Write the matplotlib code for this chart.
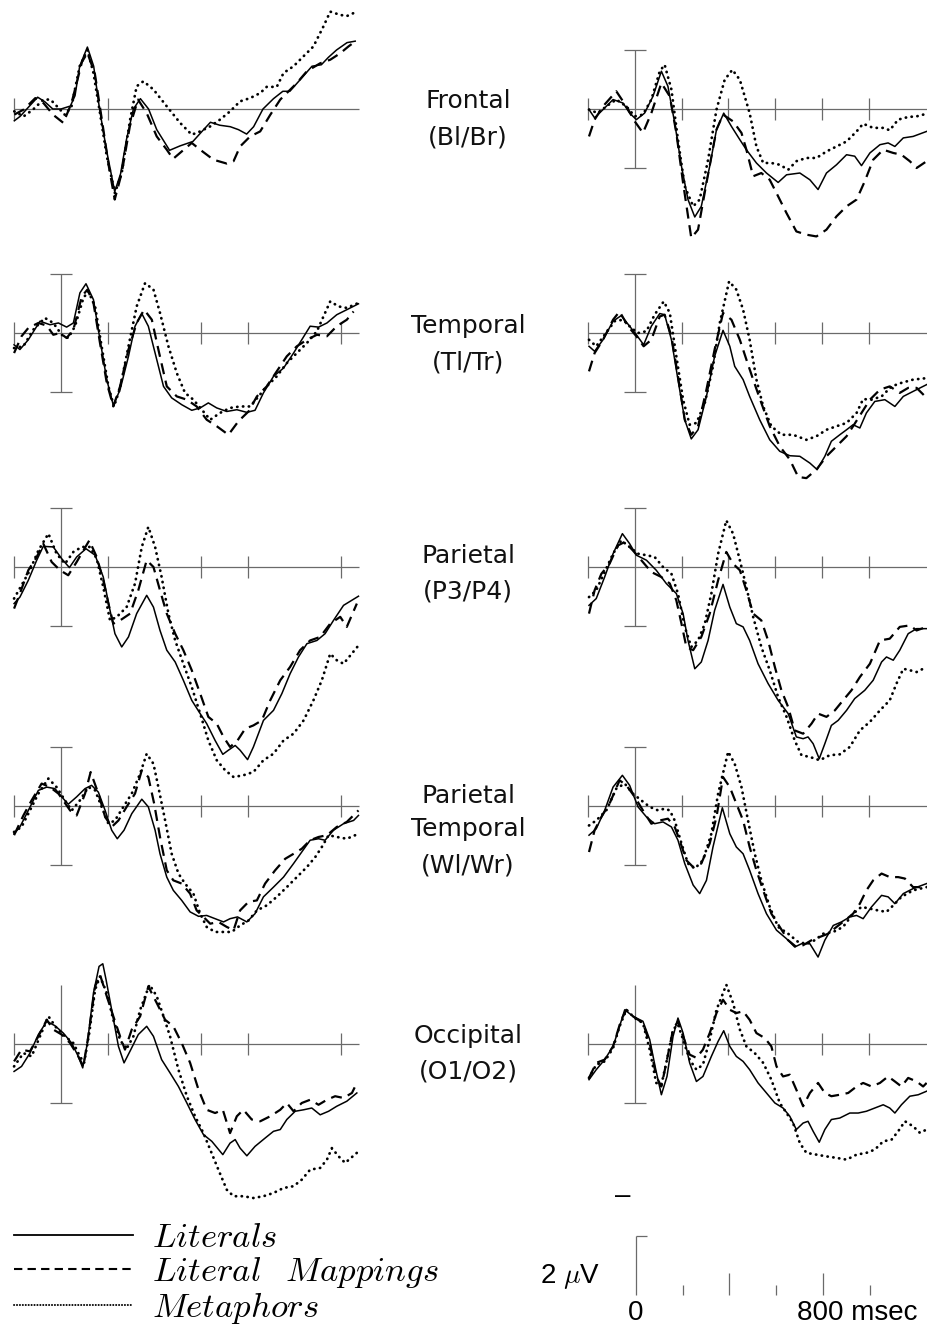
"""ERP grand averages: Literals vs Literal Mappings vs Metaphors, 5 electrode pairs."""

import matplotlib
matplotlib.use("Agg")
import matplotlib.pyplot as plt  # noqa: E402
from matplotlib.lines import Line2D  # noqa: E402

plt.rcParams["mathtext.fontset"] = "cm"

W, H = 927, 1328
PX_MS = 0.2335     # pixels per millisecond
PX_UV = 29.5       # pixels per microvolt (negative plotted up)
AX_GRAY = "#6a6a6a"

# ---- waveforms: (time ms, amplitude uV) ----
FRONTAL_L_LIT = [(-200, 0.40), (-175, 0.25), (-135, -0.10), (-100, -0.40), (-70, -0.25), (-35, 0.0), (0, 0.0), (40, -0.10), (60, -0.45), (80, -1.45), (113, -2.10), (140, -1.45), (165, 0.0), (195, 1.40), (230, 2.80), (255, 2.20), (280, 1.05), (310, 0.0), (340, -0.35), (375, 0.0), (410, 0.70), (465, 1.40), (510, 1.25), (565, 1.10), (605, 0.75), (640, 0.45), (680, 0.55), (725, 0.60), (760, 0.70), (795, 0.85), (825, 0.60), (865, 0.0), (910, -0.35), (950, -0.60), (980, -0.60), (1025, -1.0), (1075, -1.45), (1115, -1.50), (1145, -1.75), (1180, -2.0), (1225, -2.25), (1260, -2.30)]
FRONTAL_L_LM = [(-200, 0.19), (-160, 0.02), (-110, -0.37), (-75, -0.2), (-33, 0.2), (10, 0.47), (45, -0.2), (90, -1.6), (113, -1.9), (145, -1.2), (175, 0.36), (205, 1.95), (230, 3.07), (260, 2.17), (295, 0.58), (330, -0.32), (367, 0.14), (410, 0.93), (453, 1.38), (480, 1.69), (517, 1.44), (560, 1.15), (596, 1.38), (653, 1.72), (710, 1.85), (739, 1.77), (767, 1.27), (810, 0.93), (853, 0.76), (896, 0.2), (939, -0.32), (967, -0.54), (1010, -0.88), (1053, -1.28), (1110, -1.55), (1153, -1.67), (1196, -1.89), (1231, -2.12), (1260, -2.29)]
FRONTAL_L_MET = [(-200, 0.08), (-160, 0.25), (-120, 0.02), (-75, -0.32), (-45, -0.32), (-10, -0.03), (17, 0.2), (45, -0.09), (80, -1.45), (113, -2.0), (139, -1.22), (167, 0.14), (196, 1.6), (231, 2.85), (260, 2.17), (296, 0.36), (324, -0.77), (353, -0.94), (396, -0.66), (453, -0.09), (510, 0.47), (560, 0.87), (596, 0.76), (639, 0.59), (681, 0.36), (724, 0.08), (767, -0.26), (810, -0.37), (853, -0.54), (881, -0.75), (924, -0.75), (953, -1.22), (996, -1.45), (1039, -1.79), (1081, -2.12), (1124, -2.8), (1153, -3.3), (1196, -3.19), (1224, -3.15), (1267, -3.3)]

FRONTAL_R_LIT = [(-197, 0.02), (-173, 0.3), (-137, 0.02), (-94, -0.32), (-51, -0.2), (-23, 0.14), (6, 0.36), (41, 0.14), (77, -0.43), (113, -1.28), (141, -0.77), (170, 0.47), (199, 1.94), (227, 3.07), (256, 3.66), (284, 3.3), (320, 1.94), (349, 0.7), (380, 0.14), (413, 0.59), (449, 1.04), (477, 1.38), (520, 1.83), (563, 2.17), (613, 2.49), (649, 2.23), (706, 2.17), (749, 2.4), (784, 2.73), (820, 2.17), (863, 1.89), (906, 1.55), (941, 1.6), (970, 1.92), (1006, 1.49), (1049, 1.21), (1084, 1.15), (1113, 1.27), (1149, 0.98), (1191, 0.93), (1249, 0.76)]
FRONTAL_R_LM = [(-197, 0.93), (-173, 0.36), (-137, -0.09), (-80, -0.6), (-37, -0.09), (-1, 0.42), (34, 0.81), (70, 0.14), (113, -0.88), (149, -0.43), (177, 0.81), (206, 2.51), (241, 4.37), (270, 4.09), (306, 2.51), (349, 0.7), (377, 0.19), (420, 0.42), (456, 0.81), (477, 1.38), (506, 2.28), (541, 2.17), (577, 2.4), (606, 2.85), (649, 3.53), (691, 4.15), (734, 4.26), (777, 4.32), (820, 4.09), (863, 3.64), (906, 3.3), (949, 3.07), (984, 2.45), (1020, 1.72), (1063, 1.38), (1106, 1.49), (1141, 1.55), (1177, 1.77), (1206, 2.0), (1249, 1.77)]
FRONTAL_R_MET = [(-197, 0.02), (-159, 0.14), (-123, -0.09), (-80, -0.32), (-37, -0.09), (-1, 0.25), (34, 0.19), (70, -0.32), (106, -1.28), (127, -1.5), (156, -0.66), (184, 1.04), (213, 2.62), (249, 3.3), (277, 3.07), (313, 1.72), (349, 0.02), (384, -0.99), (417, -1.33), (449, -0.99), (491, 0.14), (520, 1.27), (549, 1.83), (584, 1.83), (620, 1.89), (656, 2.06), (691, 1.77), (734, 1.66), (777, 1.66), (820, 1.44), (863, 1.27), (906, 1.1), (949, 0.76), (977, 0.5), (1020, 0.64), (1063, 0.64), (1091, 0.72), (1127, 0.36), (1170, 0.27), (1206, 0.25), (1249, 0.16)]

TEMPORAL_L_LIT = [(-201, 0.4), (-176, 0.56), (-140, 0.23), (-90, -0.4), (-47, -0.28), (-11, -0.34), (24, -0.2), (53, -0.34), (81, -1.36), (107, -1.67), (139, -1.13), (167, 0.23), (196, 1.58), (224, 2.45), (253, 1.92), (289, 0.79), (317, -0.23), (346, -0.66), (374, -0.23), (403, 0.68), (439, 1.81), (474, 2.2), (517, 2.43), (560, 2.62), (596, 2.54), (631, 2.37), (667, 2.54), (710, 2.66), (753, 2.6), (796, 2.69), (831, 2.62), (867, 2.03), (910, 1.47), (953, 1.19), (996, 0.68), (1031, 0.23), (1067, -0.23), (1103, -0.2), (1139, -0.34), (1181, -0.62), (1224, -0.79), (1274, -0.99)]
TEMPORAL_L_LM = [(-201, 0.68), (-169, 0.11), (-140, -0.17), (-97, -0.34), (-61, -0.25), (-33, 0.06), (-4, 0.0), (24, 0.17), (53, -0.11), (89, -1.24), (113, -1.47), (139, -1.02), (167, 0.34), (196, 1.69), (224, 2.49), (253, 1.81), (289, 0.56), (324, -0.34), (356, -0.79), (389, -0.45), (417, 0.56), (453, 1.81), (496, 2.15), (539, 2.26), (581, 2.49), (624, 2.94), (667, 3.16), (717, 3.45), (760, 2.99), (803, 2.66), (839, 2.15), (881, 1.81), (924, 1.3), (967, 0.79), (1010, 0.45), (1053, 0.23), (1096, 0.06), (1139, 0.11), (1181, -0.23), (1224, -0.45), (1253, -0.73)]
TEMPORAL_L_MET = [(-201, 0.51), (-161, 0.45), (-119, -0.11), (-69, -0.51), (-33, -0.34), (3, 0.06), (31, 0.17), (60, -0.23), (96, -1.19), (117, -1.41), (146, -0.9), (174, 0.45), (203, 1.81), (227, 2.49), (253, 1.86), (289, 0.45), (324, -0.9), (360, -1.69), (396, -1.47), (424, -0.68), (460, 0.45), (496, 1.36), (531, 2.03), (567, 2.26), (603, 2.6), (639, 2.94), (681, 2.71), (724, 2.54), (767, 2.49), (810, 2.49), (846, 2.15), (881, 1.81), (924, 1.47), (967, 1.02), (1010, 0.68), (1053, 0.34), (1096, -0.06), (1124, -0.56), (1153, -1.07), (1189, -0.9), (1224, -0.85), (1274, -1.02)]

TEMPORAL_R_LIT = [(-197, 0.45), (-173, 0.62), (-137, 0.23), (-94, -0.4), (-59, -0.59), (-23, -0.23), (6, 0.06), (37, 0.4), (70, -0.23), (106, -0.66), (127, -0.62), (156, 0.23), (184, 1.58), (213, 2.94), (241, 3.59), (270, 3.28), (306, 2.15), (341, 0.79), (377, -0.09), (406, 0.45), (427, 1.13), (463, 1.58), (491, 2.15), (534, 2.94), (577, 3.62), (620, 4.01), (663, 4.16), (706, 4.18), (749, 4.41), (780, 4.63), (813, 4.18), (841, 3.67), (877, 3.45), (906, 3.28), (934, 3.11), (963, 3.22), (991, 2.71), (1027, 2.32), (1070, 2.26), (1113, 2.49), (1149, 2.15), (1191, 1.98), (1249, 1.75)]
TEMPORAL_R_LM = [(-197, 1.3), (-173, 0.68), (-137, 0.23), (-94, -0.45), (-66, -0.73), (-30, -0.23), (6, 0.11), (37, 0.45), (70, 0.23), (106, -0.56), (127, -0.62), (156, 0.11), (184, 1.47), (213, 2.94), (241, 3.45), (270, 3.16), (306, 1.92), (341, 0.56), (377, -0.68), (413, -0.45), (449, 0.23), (477, 0.9), (506, 1.58), (541, 2.37), (577, 3.16), (620, 3.84), (663, 4.29), (699, 4.88), (734, 4.92), (777, 4.63), (820, 4.18), (863, 3.84), (906, 3.5), (934, 3.16), (970, 2.71), (1006, 2.26), (1049, 1.92), (1091, 1.81), (1134, 2.03), (1170, 1.86), (1206, 1.86), (1249, 2.2)]
TEMPORAL_R_MET = [(-197, 0.23), (-166, 0.45), (-130, 0.06), (-87, -0.4), (-51, -0.45), (-16, -0.17), (13, 0.0), (49, -0.06), (84, -0.62), (123, -1.07), (149, -0.68), (177, 0.79), (206, 2.26), (234, 3.11), (263, 3.05), (299, 2.37), (334, 1.13), (363, -0.34), (403, -1.75), (434, -1.47), (463, -0.79), (491, 0.23), (520, 1.58), (549, 2.49), (584, 3.16), (627, 3.45), (677, 3.45), (734, 3.62), (777, 3.5), (820, 3.28), (863, 3.16), (906, 3.05), (949, 2.71), (977, 2.24), (1013, 2.26), (1056, 2.15), (1099, 1.81), (1141, 1.69), (1191, 1.58), (1249, 1.53)]

PARIETAL_L_LIT = [(-201, 1.24), (-176, 1.02), (-140, 0.45), (-104, -0.23), (-76, -0.7), (-33, -0.68), (3, -0.28), (36, 0.02), (67, -0.34), (107, -0.62), (146, -0.4), (181, 0.34), (210, 1.47), (231, 2.26), (260, 2.71), (289, 2.37), (324, 1.58), (367, 0.96), (396, 1.36), (424, 2.15), (453, 2.82), (489, 3.22), (524, 3.84), (560, 4.52), (596, 4.97), (624, 5.31), (660, 5.88), (693, 6.35), (717, 6.21), (746, 6.05), (767, 6.21), (799, 6.53), (824, 6.1), (867, 5.2), (910, 4.86), (946, 4.29), (981, 3.62), (1017, 3.05), (1053, 2.6), (1096, 2.49), (1131, 2.26), (1167, 1.81), (1210, 1.3), (1274, 0.99)]
PARIETAL_L_LM = [(-201, 1.41), (-176, 0.9), (-140, 0.11), (-104, -0.34), (-76, -0.79), (-40, -0.17), (-4, 0.11), (31, 0.28), (67, -0.17), (121, -0.9), (153, -0.34), (181, 0.45), (203, 1.24), (224, 1.92), (253, 1.81), (296, 1.58), (331, 0.79), (367, -0.23), (396, 0.0), (424, 0.79), (453, 1.58), (489, 2.26), (524, 2.82), (560, 3.5), (596, 4.29), (631, 5.08), (667, 5.31), (696, 5.76), (724, 6.1), (756, 5.88), (789, 5.48), (824, 5.37), (860, 5.2), (896, 4.52), (939, 3.84), (981, 3.39), (1024, 2.82), (1067, 2.49), (1110, 2.37), (1153, 1.92), (1196, 1.69), (1224, 2.03), (1267, 1.24)]
PARIETAL_L_MET = [(-201, 1.07), (-169, 0.62), (-133, 0.11), (-97, -0.56), (-54, -1.13), (-19, -0.45), (17, -0.11), (53, -0.51), (89, -0.68), (124, -0.68), (153, -0.28), (181, 0.68), (210, 1.81), (239, 1.69), (281, 1.36), (317, 0.56), (346, -0.68), (374, -1.36), (403, -0.68), (431, 0.34), (460, 1.58), (489, 2.49), (524, 3.28), (560, 4.07), (596, 4.97), (631, 5.88), (667, 6.55), (703, 6.89), (739, 7.12), (781, 7.06), (824, 6.95), (867, 6.55), (910, 6.33), (953, 5.88), (996, 5.65), (1039, 5.2), (1081, 4.52), (1117, 3.84), (1153, 2.94), (1181, 3.16), (1210, 3.28), (1274, 2.66)]

PARIETAL_R_LIT = [(-197, 1.3), (-166, 1.07), (-130, 0.34), (-94, -0.45), (-54, -1.13), (-23, -0.79), (6, -0.4), (49, -0.23), (91, 0.11), (134, 0.56), (177, 0.9), (206, 1.58), (227, 2.49), (256, 3.45), (284, 3.22), (313, 2.49), (341, 1.47), (377, 0.59), (406, 1.36), (434, 1.92), (463, 2.03), (491, 2.49), (527, 3.28), (570, 3.95), (613, 4.52), (656, 4.97), (691, 5.76), (720, 5.82), (741, 5.76), (763, 5.99), (789, 6.5), (813, 5.99), (841, 5.37), (870, 5.2), (906, 4.86), (941, 4.46), (984, 4.18), (1020, 3.84), (1056, 3.22), (1077, 3.05), (1106, 3.16), (1134, 2.82), (1170, 2.26), (1206, 2.09), (1249, 2.09)]
PARIETAL_R_LM = [(-197, 1.58), (-173, 0.79), (-144, 0.23), (-109, -0.11), (-73, -0.73), (-44, -0.85), (-9, -0.56), (27, -0.23), (70, 0.17), (113, 0.34), (149, 0.56), (177, 1.13), (199, 1.92), (220, 2.71), (249, 2.82), (284, 2.37), (320, 1.58), (356, 0.45), (391, -0.51), (420, -0.11), (449, 0.11), (477, 0.79), (506, 1.58), (541, 1.81), (570, 2.49), (599, 3.39), (627, 4.18), (656, 4.75), (684, 5.54), (720, 5.65), (756, 5.31), (784, 4.97), (820, 5.08), (856, 4.86), (891, 4.52), (927, 4.18), (963, 3.73), (1006, 3.28), (1049, 2.49), (1091, 2.43), (1134, 2.03), (1177, 1.98), (1206, 2.15), (1249, 2.03)]
PARIETAL_R_MET = [(-197, 1.02), (-166, 0.79), (-130, 0.17), (-94, -0.45), (-59, -0.9), (-23, -0.68), (13, -0.45), (49, -0.4), (84, -0.34), (120, 0.0), (156, 0.23), (184, 0.9), (213, 2.03), (241, 2.71), (270, 2.49), (299, 1.92), (327, 0.9), (356, -0.45), (391, -1.58), (420, -1.13), (449, -0.23), (477, 0.68), (506, 1.69), (541, 2.71), (577, 3.5), (613, 4.41), (649, 5.08), (684, 5.88), (713, 6.38), (749, 6.44), (791, 6.55), (834, 6.38), (877, 6.35), (920, 6.1), (963, 5.54), (1006, 5.25), (1049, 4.86), (1091, 4.52), (1120, 3.95), (1149, 3.45), (1177, 3.5), (1206, 3.56), (1249, 3.39)]

PARTEMP_L_LIT = [(-201, 0.94), (-176, 0.71), (-140, 0.15), (-97, -0.53), (-61, -0.64), (-26, -0.59), (3, -0.31), (31, -0.06), (67, -0.31), (103, -0.59), (131, -0.7), (160, -0.47), (189, 0.15), (217, 0.82), (241, 1.11), (270, 0.82), (303, 0.26), (346, -0.23), (374, 0.03), (403, 0.82), (424, 1.62), (453, 2.41), (481, 2.86), (517, 3.2), (553, 3.59), (589, 3.74), (624, 3.71), (660, 3.82), (696, 3.93), (724, 3.82), (756, 3.76), (796, 3.93), (831, 3.65), (867, 3.08), (910, 2.75), (953, 2.41), (996, 1.95), (1031, 1.56), (1067, 1.16), (1103, 1.11), (1131, 1.16), (1167, 0.82), (1210, 0.6), (1253, 0.49), (1274, 0.32)]
PARTEMP_L_LM = [(-201, 0.99), (-161, 0.32), (-126, -0.19), (-83, -0.76), (-47, -0.64), (-11, -0.42), (39, 0.15), (67, 0.32), (103, -0.42), (127, -1.15), (160, -0.42), (189, 0.37), (217, 0.71), (246, 0.49), (281, 0.03), (317, -0.42), (346, -1.21), (374, -0.98), (399, -0.08), (424, 1.05), (453, 2.18), (481, 2.52), (517, 2.63), (553, 2.97), (581, 3.54), (610, 3.76), (639, 3.99), (674, 3.93), (710, 4.1), (739, 4.21), (767, 3.54), (803, 3.25), (839, 3.2), (874, 2.63), (917, 2.18), (960, 1.79), (996, 1.62), (1031, 1.45), (1067, 1.16), (1103, 1.05), (1139, 0.99), (1181, 0.71), (1224, 0.54), (1274, 0.15)]
PARTEMP_L_MET = [(-201, 0.88), (-169, 0.71), (-133, 0.15), (-97, -0.42), (-54, -0.93), (-19, -0.64), (17, -0.19), (46, 0.15), (81, -0.19), (117, -0.64), (146, -0.53), (174, 0.03), (203, 0.6), (231, 0.49), (267, 0.03), (303, -0.42), (339, -1.1), (367, -1.77), (396, -1.43), (417, -0.64), (446, 0.49), (474, 1.62), (503, 2.29), (531, 2.63), (567, 2.97), (596, 3.65), (624, 4.1), (660, 4.27), (696, 4.27), (731, 4.27), (767, 4.05), (803, 3.88), (839, 3.54), (881, 3.37), (924, 3.08), (967, 2.75), (1010, 2.41), (1053, 2.07), (1089, 1.73), (1117, 1.39), (1146, 0.99), (1181, 1.05), (1224, 1.11), (1260, 0.99)]

PARTEMP_R_LIT = [(-197, 0.99), (-166, 0.77), (-130, 0.15), (-94, -0.64), (-54, -1.04), (-23, -0.7), (13, 0.03), (49, 0.37), (84, 0.6), (120, 0.54), (156, 0.71), (184, 1.16), (213, 1.95), (249, 2.68), (277, 2.97), (306, 2.52), (334, 1.39), (374, 0.06), (406, 0.94), (434, 1.39), (463, 1.62), (491, 2.18), (527, 2.97), (563, 3.65), (606, 4.21), (649, 4.5), (684, 4.78), (713, 4.67), (749, 4.67), (784, 5.12), (813, 4.55), (849, 4.05), (884, 3.93), (920, 3.76), (949, 3.71), (977, 3.82), (1013, 3.42), (1056, 3.03), (1084, 3.08), (1113, 3.31), (1149, 2.97), (1191, 2.8), (1249, 2.63)]
PARTEMP_R_LM = [(-197, 1.56), (-173, 0.82), (-144, 0.37), (-109, -0.08), (-66, -0.87), (-37, -0.7), (-1, -0.31), (34, 0.15), (70, 0.6), (106, 0.49), (141, 0.43), (170, 0.71), (191, 1.16), (220, 1.84), (249, 2.07), (284, 1.95), (320, 1.27), (349, 0.37), (377, -0.98), (406, -0.64), (434, -0.08), (463, 0.49), (491, 1.39), (520, 2.18), (549, 2.86), (584, 3.65), (620, 4.1), (656, 4.55), (691, 4.78), (720, 4.72), (756, 4.55), (791, 4.44), (827, 4.33), (863, 4.1), (899, 3.88), (934, 3.65), (963, 3.31), (991, 2.86), (1020, 2.52), (1056, 2.29), (1091, 2.41), (1127, 2.41), (1156, 2.46), (1191, 2.75), (1249, 2.75)]
PARTEMP_R_MET = [(-197, 0.66), (-166, 0.49), (-123, 0.15), (-80, -0.59), (-44, -0.76), (-9, -0.42), (27, -0.19), (63, 0.03), (99, 0.15), (127, 0.09), (149, 0.15), (170, 0.49), (199, 1.27), (227, 1.95), (256, 2.12), (291, 1.84), (327, 0.94), (356, -0.42), (399, -1.84), (427, -1.43), (456, -0.64), (484, 0.49), (513, 1.62), (541, 2.52), (577, 3.42), (613, 4.1), (656, 4.33), (699, 4.61), (734, 4.67), (770, 4.55), (806, 4.33), (849, 4.27), (891, 4.1), (934, 3.65), (970, 3.42), (1006, 3.48), (1041, 3.54), (1077, 3.59), (1106, 3.37), (1141, 3.08), (1191, 2.86), (1249, 2.75)]

OCCIPITAL_L_LIT = [(-201, 0.93), (-169, 0.76), (-133, 0.31), (-97, -0.32), (-61, -0.77), (-26, -0.62), (10, -0.37), (46, -0.03), (74, 0.42), (93, 0.81), (113, -0.03), (139, -1.73), (163, -2.63), (179, -2.72), (193, -2.18), (217, -1.16), (246, 0.08), (270, 0.64), (299, 0.19), (331, -0.32), (367, -0.6), (396, -0.26), (431, 0.53), (467, 0.98), (503, 1.44), (539, 2.0), (574, 2.56), (610, 3.07), (646, 3.3), (693, 3.75), (724, 3.36), (746, 3.24), (767, 3.53), (796, 3.79), (831, 3.47), (874, 3.19), (910, 2.96), (939, 2.9), (967, 2.56), (1003, 2.28), (1039, 2.23), (1074, 2.17), (1110, 2.4), (1146, 2.28), (1181, 2.11), (1224, 1.94), (1267, 1.66)]
OCCIPITAL_L_LM = [(-201, 0.59), (-169, 0.19), (-133, 0.25), (-97, -0.26), (-61, -0.82), (-33, -0.49), (3, -0.32), (39, -0.03), (74, 0.42), (96, 0.76), (117, -0.26), (146, -1.95), (167, -2.35), (196, -1.62), (224, -0.94), (253, -0.26), (274, 0.19), (303, -0.49), (339, -0.94), (374, -1.95), (410, -1.39), (446, -0.82), (481, -0.6), (517, -0.03), (553, 0.64), (589, 1.55), (624, 2.23), (660, 2.34), (693, 2.23), (724, 3.02), (753, 2.45), (781, 2.23), (817, 2.56), (853, 2.62), (896, 2.45), (939, 2.23), (967, 2.0), (996, 2.28), (1031, 2.0), (1067, 1.89), (1103, 2.06), (1139, 1.89), (1174, 1.77), (1210, 1.83), (1246, 1.66), (1267, 1.32)]
OCCIPITAL_L_MET = [(-201, 0.76), (-161, 0.31), (-126, 0.42), (-90, -0.26), (-54, -0.94), (-19, -0.54), (17, -0.26), (53, -0.03), (81, 0.42), (99, 0.64), (121, -0.37), (146, -1.84), (167, -2.29), (196, -1.73), (224, -0.82), (253, -0.15), (279, 0.19), (310, -0.26), (339, -1.16), (379, -2.01), (410, -1.62), (439, -0.94), (467, -0.26), (503, 0.87), (539, 1.77), (574, 2.45), (610, 3.02), (639, 3.58), (674, 4.26), (710, 4.94), (739, 5.16), (781, 5.16), (824, 5.22), (867, 5.16), (910, 5.05), (953, 4.88), (996, 4.82), (1031, 4.6), (1067, 4.26), (1110, 4.2), (1139, 3.92), (1160, 3.53), (1189, 3.81), (1217, 4.03), (1267, 3.69)]

OCCIPITAL_R_LIT = [(-197, 1.21), (-166, 0.87), (-130, 0.53), (-94, 0.08), (-66, -0.6), (-44, -1.16), (-9, -0.94), (34, -0.77), (63, -0.15), (89, 0.87), (113, 1.72), (137, 1.1), (163, -0.26), (184, -0.88), (206, -0.37), (234, 0.64), (263, 1.27), (291, 1.1), (327, 0.42), (356, -0.09), (380, -0.45), (406, 0.08), (434, 0.42), (463, 0.59), (491, 0.87), (527, 1.32), (563, 1.66), (599, 2.0), (634, 2.17), (663, 2.45), (691, 2.9), (720, 2.68), (741, 2.62), (763, 2.96), (789, 3.33), (813, 2.9), (841, 2.56), (877, 2.51), (920, 2.34), (956, 2.34), (991, 2.28), (1027, 2.17), (1063, 2.06), (1091, 2.17), (1113, 2.34), (1141, 2.06), (1177, 1.77), (1213, 1.72), (1249, 1.6)]
OCCIPITAL_R_LM = [(-197, 1.15), (-166, 0.64), (-130, 0.53), (-94, 0.08), (-59, -0.82), (-37, -1.16), (-9, -0.94), (34, -0.71), (63, -0.03), (91, 1.1), (113, 1.44), (137, 0.53), (163, -0.49), (184, -0.77), (206, -0.26), (234, 0.36), (263, 0.47), (291, 0.19), (320, -0.37), (349, -1.05), (377, -1.5), (406, -1.16), (434, -1.05), (463, -1.11), (491, -0.82), (520, -0.37), (556, -0.2), (584, 0.08), (606, 0.76), (634, 1.1), (663, 1.04), (691, 1.55), (720, 2.11), (749, 1.66), (784, 1.32), (813, 1.66), (841, 1.77), (877, 1.72), (913, 1.66), (949, 1.44), (977, 1.32), (1013, 1.44), (1049, 1.32), (1084, 1.1), (1113, 1.27), (1141, 1.44), (1170, 1.15), (1206, 1.27), (1234, 1.44), (1249, 1.32)]
OCCIPITAL_R_MET = [(-197, 1.15), (-166, 0.7), (-130, 0.59), (-94, 0.14), (-66, -0.6), (-37, -1.16), (-1, -0.88), (34, -0.71), (63, 0.19), (91, 1.32), (113, 1.38), (137, 0.53), (163, -0.49), (184, -0.66), (206, -0.15), (234, 0.53), (263, 0.87), (291, 0.7), (320, -0.15), (349, -1.16), (391, -2.01), (420, -1.39), (449, -0.49), (477, 0.08), (513, 0.31), (549, 0.64), (584, 1.21), (620, 2.0), (649, 2.34), (677, 2.68), (706, 3.36), (734, 3.69), (777, 3.75), (820, 3.81), (863, 3.86), (906, 3.92), (949, 3.75), (991, 3.69), (1027, 3.58), (1063, 3.3), (1099, 3.24), (1127, 2.96), (1156, 2.62), (1191, 2.79), (1220, 3.01), (1249, 2.9)]

REGION_LABELS = [["Frontal", "(Bl/Br)"], ["Temporal", "(Tl/Tr)"], ["Parietal", "(P3/P4)"],
                 ["Parietal", "Temporal", "(Wl/Wr)"], ["Occipital", "(O1/O2)"]]
CONDITIONS = [r"$Literals$", r"$Literal\ \ \,Mappings$", r"$Metaphors$"]
LEFT_TICKS = [-200, 200, 600, 800, 1200]
RIGHT_TICKS = [-200, 200, 400, 600, 800, 1000]
SCALE_TICKS = [200, 400, 600, 800, 1000]
SCALE_TICK_LEN = [0.33, 0.75, 0.33, 0.75, 0.33]

PANELS = [  # (row, col, lit, lm, met)
    (0, 0, FRONTAL_L_LIT, FRONTAL_L_LM, FRONTAL_L_MET),
    (0, 1, FRONTAL_R_LIT, FRONTAL_R_LM, FRONTAL_R_MET),
    (1, 0, TEMPORAL_L_LIT, TEMPORAL_L_LM, TEMPORAL_L_MET),
    (1, 1, TEMPORAL_R_LIT, TEMPORAL_R_LM, TEMPORAL_R_MET),
    (2, 0, PARIETAL_L_LIT, PARIETAL_L_LM, PARIETAL_L_MET),
    (2, 1, PARIETAL_R_LIT, PARIETAL_R_LM, PARIETAL_R_MET),
    (3, 0, PARTEMP_L_LIT, PARTEMP_L_LM, PARTEMP_L_MET),
    (3, 1, PARTEMP_R_LIT, PARTEMP_R_LM, PARTEMP_R_MET),
    (4, 0, OCCIPITAL_L_LIT, OCCIPITAL_L_LM, OCCIPITAL_L_MET),
    (4, 1, OCCIPITAL_R_LIT, OCCIPITAL_R_LM, OCCIPITAL_R_MET),
]

# layout (pixels in the output image)
ROW_BASE = [109, 333, 567, 806, 1044]
COL_ZERO = [61, 635]
LABEL_X = 468
LABEL_Y = [[101, 138], [326, 362], [556, 592], [796, 829, 866], [1036, 1072]]

STYLES = [dict(color="black", lw=1.1, ls="-"),
          dict(color="black", lw=1.6, ls=(0, (5, 3))),
          dict(color="black", lw=2.0, ls=(0, (0.1, 2.0)), dash_capstyle="round")]


def px_axes(fig, x0, base, tmin, tmax, vtop, vbot):
    left = x0 + tmin * PX_MS
    top = base + vtop * PX_UV
    width = (tmax - tmin) * PX_MS
    height = (vbot - vtop) * PX_UV
    ax = fig.add_axes([left / W, 1 - (top + height) / H, width / W, height / H])
    ax.set_xlim(tmin, tmax)
    ax.set_ylim(vbot, vtop)  # negative up
    ax.axis("off")
    return ax


def draw_frame(ax, ticks, t_end, yaxis=True, top_cap=True):
    kw = dict(color=AX_GRAY, lw=0.9)
    ax.hlines(0, -200, t_end, **kw)
    ax.vlines(ticks, -0.37, 0.37, **kw)
    if yaxis:
        ax.vlines(0, -2, 2, **kw)
        ax.hlines(2, -47, 47, **kw)
        if top_cap:
            ax.hlines(-2, -47, 47, **kw)


fig = plt.figure(figsize=(W / 100, H / 100), dpi=100, facecolor="white")

for row, col, *curves in PANELS:
    x0 = COL_ZERO[col]
    tmax = 1290 if col == 0 else (W - x0) / PX_MS
    ax = px_axes(fig, x0, ROW_BASE[row], -215, tmax, -4.0, 8.0)
    if row == 0 and col == 0:
        draw_frame(ax, [-200, 200], 1275, yaxis=False)
    else:
        draw_frame(ax, LEFT_TICKS if col == 0 else RIGHT_TICKS,
                   1275 if col == 0 else tmax, top_cap=(row != 4))
    for curve, st in zip(curves, STYLES):
        ts, vs = zip(*curve)
        ax.plot(ts, vs, **st)

for lines, ys in zip(REGION_LABELS, LABEL_Y):
    for s, y in zip(lines, ys):
        fig.text(LABEL_X / W, 1 - y / H, s, ha="center", va="center",
                 fontsize=18, family="DejaVu Sans", color="#111111")

# legend
handles = [Line2D([], [], color="black", lw=1.3, ls="-"),
           Line2D([], [], color="black", lw=1.5, ls=(0, (4, 2.5))),
           Line2D([], [], color="black", lw=1.4, ls=(0, (0.1, 1.4)), dash_capstyle="round")]
fig.legend(handles, CONDITIONS, loc="center left", bbox_to_anchor=(14 / W, 1 - 1273 / H),
           frameon=False, fontsize=25, handlelength=3.43, handletextpad=0.55,
           labelspacing=0.0, borderpad=0, borderaxespad=0)

# calibration bar
sax = px_axes(fig, 636, 1295, -300, 1300, -4.5, 1.5)
sax.vlines(0, -2, 0, color=AX_GRAY, lw=0.9)
sax.hlines(-2, 0, 47, color=AX_GRAY, lw=0.9)
sax.vlines(SCALE_TICKS, 0, [-h for h in SCALE_TICK_LEN], color=AX_GRAY, lw=0.9)
tkw = dict(fontsize=20, family="Liberation Sans", color="black")
sax.text(0, 0.62, "0", ha="center", va="center", **tkw)
sax.text(690, 0.62, "800 msec", ha="left", va="center", **tkw)
sax.text(-152, -0.62, r"2 $\mu$V", ha="right", va="center", **tkw)
sax.text(-55, -3.36, "\u2013", ha="center", va="center", **tkw)

fig.savefig("out.png", dpi=100, facecolor="white")
